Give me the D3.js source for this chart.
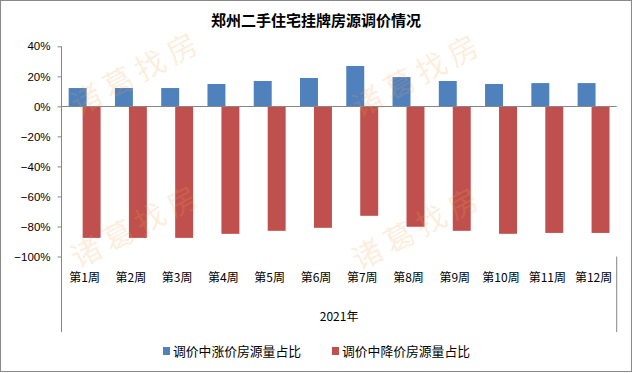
<!DOCTYPE html>
<html><head><meta charset="utf-8">
<script src="https://cdn.jsdelivr.net/npm/d3@7"></script>
<style>html,body{margin:0;padding:0;background:#fff;}svg{display:block;}</style>
</head><body>
<svg id="c" width="633" height="373"></svg>
<script>
const title = "郑州二手住宅挂牌房源调价情况";
const weeks = ["第1周","第2周","第3周","第4周","第5周","第6周","第7周","第8周","第9周","第10周","第11周","第12周"];
const groupLabel = "2021年";
const seriesNames = ["调价中涨价房源量占比","调价中降价房源量占比"];
const riseShare = [0.122, 0.122, 0.122, 0.149, 0.169, 0.189, 0.269, 0.195, 0.169, 0.149, 0.155, 0.155];
const fallShare = [-0.876, -0.876, -0.876, -0.849, -0.829, -0.809, -0.729, -0.802, -0.829, -0.849, -0.843, -0.843];
const yTicks = [0.4, 0.2, 0, -0.2, -0.4, -0.6, -0.8, -1.0];
const colors = ["#4F81BD", "#C0504D"];
const watermark = "诸葛找房";

(function(){
const svg = d3.select("#c");
const pLeft = 61.5, pRight = 616.7, pTop = 46.3, pBottom = 256.5;

const x0 = d3.scaleBand().domain(weeks).range([pLeft, pRight]).paddingInner(0.31).paddingOuter(0.155);
const y = d3.scaleLinear().domain([-1, 0.4]).range([pBottom, pTop]);

svg.append("rect").attr("x",0.5).attr("y",0.5).attr("width",631).attr("height",371)
  .attr("fill","#fff").attr("stroke","#898989").attr("stroke-width",1);

svg.append("text").attr("x",316).attr("y",26).attr("text-anchor","middle")
  .attr("font-family","'Noto Sans CJK SC', sans-serif").attr("font-weight","bold")
  .attr("font-size",15).attr("fill","#000").text(title);

const bw = x0.bandwidth();
const barW = bw * 18 / 32;
const offs = [0, bw * 14 / 32];
const series = [riseShare, fallShare];
series.forEach((vals, si) => {
  svg.append("g").selectAll("rect").data(vals).join("rect")
    .attr("x", (d,i) => x0(weeks[i]) + offs[si])
    .attr("width", barW)
    .attr("y", d => y(Math.max(0,d)))
    .attr("height", d => Math.abs(y(d) - y(0)))
    .attr("fill", colors[si]);
});

const yAxis = d3.axisLeft(y).tickValues(yTicks).tickFormat(d3.format(".0%")).tickSize(4).tickPadding(7);
const ga = svg.append("g").attr("transform",`translate(${pLeft},0)`).call(yAxis);
ga.select(".domain").remove();
ga.selectAll(".tick line").attr("stroke","#868686");
ga.selectAll(".tick text").attr("font-family","'Liberation Sans', Arial, sans-serif").attr("font-size",11.5).attr("fill","#000");

const axisColor = "#868686";
svg.append("line").attr("x1",pLeft).attr("x2",pLeft).attr("y1",pTop).attr("y2",332).attr("stroke",axisColor);
svg.append("line").attr("x1",pRight).attr("x2",pRight).attr("y1",pBottom).attr("y2",332).attr("stroke",axisColor);
svg.append("line").attr("x1",pLeft).attr("x2",pRight).attr("y1",Math.round(y(0))+0.5).attr("y2",Math.round(y(0))+0.5).attr("stroke",axisColor);

svg.append("g").selectAll("text").data(weeks).join("text")
  .attr("x", d => x0(d) + bw/2).attr("y", 281.5).attr("text-anchor","middle")
  .attr("font-family","'Noto Sans CJK SC', sans-serif").attr("font-size",12).attr("fill","#000")
  .text(d => d);
svg.append("text").attr("x",(pLeft+pRight)/2).attr("y",320.5).attr("text-anchor","middle")
  .attr("font-family","'Noto Sans CJK SC', sans-serif").attr("font-size",12).attr("fill","#000")
  .text(groupLabel);

const legX = [163, 332];
seriesNames.forEach((n, i) => {
  svg.append("rect").attr("x",legX[i]).attr("y",347).attr("width",7).attr("height",8).attr("fill",colors[i]);
  svg.append("text").attr("x",legX[i]+10).attr("y",355.5)
    .attr("font-family","'Noto Sans CJK SC', sans-serif").attr("font-size",12.8).attr("fill","#000")
    .text(n);
});

const wmPos = [[137,73],[418,75],[137,226],[418,228]];
const wm = svg.append("g").attr("pointer-events","none");
wmPos.forEach(p => {
  wm.append("text").attr("transform",`translate(${p[0]},${p[1]}) rotate(-28)`)
    .attr("text-anchor","middle").attr("dy","0.35em")
    .attr("font-family","'Noto Sans CJK SC', sans-serif").attr("font-size",30)
    .attr("letter-spacing",6)
    .attr("fill","#f7a04a").attr("fill-opacity",0.2).text(watermark);
});
})();
</script>
</body></html>
